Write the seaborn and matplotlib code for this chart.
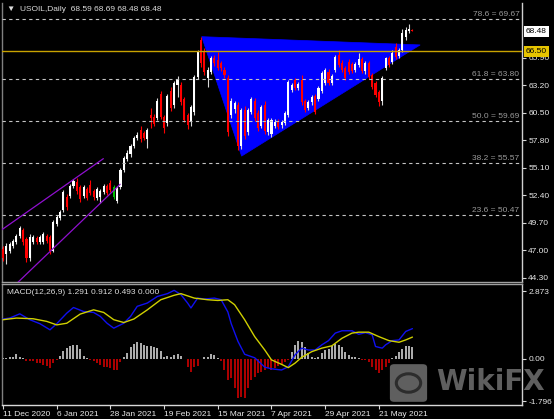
import numpy as np
import pandas as pd
import matplotlib
matplotlib.use("Agg")
import matplotlib.pyplot as plt
import seaborn as sns
from matplotlib.patches import Polygon, FancyBboxPatch, Circle

# ---------------- data ----------------
opens = [47.1, 46.6, 46.9, 47.4, 47.8, 48.4, 49.0, 48.1, 46.3, 47.8,
         48.2, 47.8, 47.8, 48.4, 48.3, 46.9, 49.6, 50.2, 51.0, 52.2,
         52.3, 53.3, 53.7, 53.2, 52.3, 53.0, 53.4, 52.8, 52.1, 52.2,
         52.7, 53.3, 53.6, 53.2, 51.8, 53.2, 54.9, 56.0, 56.4, 57.2,
         58.0, 58.8, 58.5, 57.9, 60.3, 60.1, 60.0, 62.3, 60.1, 59.5,
         62.6, 61.3, 63.2, 63.2, 61.8, 60.3, 59.6, 60.6, 64.0, 67.6,
         66.5, 63.9, 64.5, 65.9, 65.7, 65.4, 64.7, 63.9, 60.3, 60.9,
         61.3, 57.2, 60.8, 58.6, 60.6, 61.6, 60.5, 59.2, 61.3, 58.6,
         58.4, 59.2, 59.6, 59.3, 59.5, 60.3, 62.7, 63.7, 62.9, 63.7,
         61.6, 61.0, 61.5, 62.1, 61.8, 62.6, 63.4, 64.5, 63.4, 64.7,
         66.2, 65.4, 64.9, 65.5, 65.3, 64.7, 65.2, 65.8, 64.6, 65.4,
         64.2, 63.4, 62.5, 61.6, 64.9, 65.9, 65.5, 66.9, 66.1, 66.6,
         67.9, 68.5, 68.59]
highs = [47.4, 47.7, 47.8, 48.1, 48.6, 49.4, 49.2, 48.3, 48.6, 48.5,
         48.4, 48.5, 48.8, 48.6, 48.5, 50.0, 50.5, 51.0, 52.9, 52.5,
         53.5, 54.0, 54.1, 53.4, 53.4, 53.2, 53.9, 53.0, 53.2, 53.0,
         53.5, 53.5, 53.9, 53.4, 53.3, 55.1, 56.3, 56.8, 57.4, 58.2,
         58.6, 59.2, 58.7, 59.0, 61.0, 60.4, 61.9, 62.6, 60.3, 62.3,
         63.0, 63.6, 64.1, 63.5, 62.0, 60.5, 61.3, 64.2, 66.6, 67.95,
         66.8, 65.0, 66.1, 66.2, 66.4, 65.6, 65.0, 64.2, 61.9, 61.6,
         61.5, 61.0, 61.2, 61.0, 62.0, 61.9, 60.8, 61.3, 61.6, 60.0,
         60.0, 59.9, 59.9, 59.8, 60.7, 63.7, 63.4, 63.9, 63.5, 64.2,
         61.8, 61.7, 62.2, 62.3, 63.1, 64.6, 64.9, 64.8, 64.3, 66.2,
         66.6, 65.7, 65.1, 65.8, 65.5, 65.5, 66.3, 66.0, 65.6, 65.6,
         64.4, 63.6, 62.7, 64.1, 66.0, 66.1, 66.6, 67.3, 66.8, 68.7,
         68.9, 69.2, 68.69]
lows = [46.0, 45.7, 46.7, 47.2, 47.6, 48.2, 47.5, 45.9, 46.0, 47.6,
        47.6, 47.6, 47.6, 47.7, 46.6, 46.8, 49.4, 50.0, 50.8, 51.0,
        52.1, 53.1, 52.5, 51.7, 52.1, 51.9, 52.4, 51.9, 51.9, 51.6,
        52.5, 52.4, 52.7, 52.0, 51.6, 53.0, 54.7, 55.8, 56.2, 57.0,
        57.8, 57.6, 57.8, 57.0, 59.0, 59.2, 59.8, 59.9, 58.5, 59.2,
        60.7, 61.0, 62.0, 61.3, 59.6, 58.9, 59.2, 60.3, 63.8, 65.0,
        64.2, 63.0, 64.3, 65.1, 64.7, 64.6, 63.9, 58.2, 60.0, 60.5,
        56.8, 56.9, 57.9, 58.3, 60.4, 59.7, 58.7, 59.0, 58.4, 58.3,
        58.1, 59.0, 58.9, 59.0, 59.3, 60.1, 62.5, 62.7, 62.7, 61.3,
        60.6, 60.8, 61.3, 60.4, 61.6, 62.4, 63.2, 63.2, 63.2, 64.5,
        65.0, 64.5, 63.7, 64.3, 64.4, 64.5, 65.0, 64.4, 64.3, 63.8,
        62.8, 62.0, 61.2, 61.3, 64.7, 65.0, 65.3, 65.8, 65.9, 66.4,
        67.6, 68.3, 68.48]
closes = [46.3, 47.4, 47.6, 47.9, 48.4, 49.2, 47.8, 46.3, 48.3, 48.3,
          47.8, 48.3, 48.6, 47.9, 46.9, 49.8, 50.3, 50.8, 52.7, 51.3,
          53.3, 53.8, 52.8, 52.0, 53.2, 52.1, 52.6, 52.2, 53.0, 52.8,
          53.3, 52.6, 52.9, 52.2, 53.1, 54.9, 56.1, 56.5, 57.2, 58.0,
          58.3, 57.9, 58.0, 58.8, 60.0, 59.4, 61.6, 60.1, 59.0, 62.1,
          61.0, 63.4, 63.7, 61.5, 59.8, 59.3, 61.1, 64.0, 66.4, 65.4,
          64.5, 64.7, 65.9, 65.4, 64.9, 64.9, 64.2, 58.6, 61.6, 61.4,
          57.2, 60.8, 58.2, 60.8, 61.8, 60.0, 59.0, 61.1, 58.7, 59.8,
          59.8, 59.6, 59.1, 59.6, 60.5, 63.5, 63.2, 62.9, 63.3, 61.5,
          60.8, 61.5, 62.0, 60.6, 62.9, 64.4, 64.7, 63.4, 64.1, 65.95,
          65.2, 64.7, 63.9, 64.5, 64.6, 65.3, 65.8, 64.6, 65.4, 64.0,
          63.0, 62.2, 61.5, 63.9, 65.9, 65.2, 66.3, 66.0, 66.6, 68.3,
          68.6, 68.7, 68.48]
green_bars = [33]

fib_levels = [69.67, 63.80, 59.69, 55.57, 50.47]
fib_labels = ["78.6 = 69.67", "61.8 = 63.80", "50.0 = 59.69", "38.2 = 55.57", "23.6 = 50.47"]
hline_price = 66.50
last_price = 68.48
price_ticks = [44.30, 47.00, 49.70, 52.40, 55.10, 57.80, 60.50, 63.20, 65.90]

triangle_bar = [59.2, 71.1, 124.3]
triangle_price = [67.95, 56.24, 67.14]
chan_up_bar = [-0.9, 29.9]
chan_up_price = [48.9, 55.99]
chan_lo_bar = [2.0, 34.9]
chan_lo_price = [43.1, 53.48]

macd_main_bar = [0, 2, 5, 8, 11, 14, 16, 19, 21, 24, 27, 29, 31, 33, 36, 38, 40, 43, 46, 49,
                 51, 53, 55, 56, 58, 60, 63, 65, 67, 68, 70, 72, 75, 78, 80, 83, 85, 87, 89,
                 91, 93, 95, 97, 99, 101, 104, 106, 108, 110, 111, 113, 114, 116, 118, 120, 122]
macd_main = [1.70, 1.74, 1.92, 1.67, 1.50, 1.24, 1.50, 1.95, 2.19, 2.02, 1.98, 1.81, 1.52, 1.31,
             1.52, 1.81, 2.24, 2.38, 2.66, 2.78, 2.92, 2.74, 2.38, 2.17, 2.59, 2.55, 2.59, 2.52,
             2.00, 1.50, 0.75, 0.20, 0.05, -0.35, -0.42, -0.47, -0.33, 0.17, 0.46, 0.38, 0.38,
             0.60, 0.78, 1.10, 1.20, 1.20, 1.05, 1.12, 1.03, 0.53, 0.46, 0.60, 0.78, 0.81, 1.17, 1.29]
macd_sig_bar = [0, 4, 9, 13, 16, 19, 23, 27, 30, 33, 36, 39, 43, 47, 51, 53, 57, 61, 64, 67,
                69, 72, 75, 78, 80, 83, 85, 87, 89, 92, 95, 98, 101, 104, 106, 109, 112, 115,
                118, 120, 122]
macd_sig = [1.67, 1.74, 1.71, 1.60, 1.45, 1.52, 1.91, 2.09, 1.98, 1.67, 1.55, 1.70, 2.09, 2.52,
            2.71, 2.78, 2.59, 2.52, 2.49, 2.52, 2.31, 1.67, 0.95, 0.38, -0.04, -0.23, -0.37,
            -0.18, 0.07, 0.31, 0.46, 0.56, 0.88, 1.10, 1.14, 1.14, 0.95, 0.78, 0.71, 0.81, 0.93]
macd_hist = [0.03, 0.03, 0.07, 0.10, 0.20, 0.10, 0.03, -0.07, -0.10, -0.10,
             -0.16, -0.19, -0.26, -0.28, -0.40, -0.19, -0.05, 0.13, 0.34, 0.46,
             0.56, 0.60, 0.60, 0.41, 0.13, 0.03, -0.03, -0.07, -0.19, -0.26,
             -0.33, -0.33, -0.40, -0.47, -0.47, -0.11, 0.07, 0.24, 0.50, 0.64,
             0.71, 0.70, 0.60, 0.53, 0.53, 0.50, 0.46, 0.34, 0.07, 0.13,
             0.07, 0.17, 0.20, 0.13, -0.02, -0.33, -0.54, -0.35, -0.30, 0.00,
             0.07, 0.07, 0.20, 0.17, 0.05, -0.10, -0.47, -0.90, -0.83, -1.25,
             -1.68, -1.61, -1.68, -1.25, -0.90, -0.76, -0.61, -0.55, -0.45, -0.40,
             -0.45, -0.40, -0.30, -0.20, -0.12, -0.05, 0.31, 0.60, 0.77, 0.74,
             0.50, 0.24, 0.10, 0.05, 0.10, 0.24, 0.36, 0.41, 0.53, 0.64,
             0.60, 0.50, 0.31, 0.17, 0.10, 0.07, 0.03, -0.03, -0.05, -0.11,
             -0.33, -0.47, -0.61, -0.47, -0.33, -0.19, 0.03, 0.13, 0.31, 0.43,
             0.53, 0.56, 0.49]
macd_ticks = [2.873, 0.0, -1.796]
macd_tick_labels = ["2.873", "0.00", "-1.796"]
date_bars = [0, 16, 32, 48, 64, 80, 96, 112]
date_labels = ["11 Dec 2020", "6 Jan 2021", "28 Jan 2021", "19 Feb 2021",
               "15 Mar 2021", "7 Apr 2021", "29 Apr 2021", "21 May 2021"]

# ---------------- style ----------------
sns.set_theme(style="dark", rc={"axes.facecolor": "black", "figure.facecolor": "black"})
plt.rcParams["font.family"] = ["Liberation Sans", "DejaVu Sans"]

W, H = 554, 419
fig = plt.figure(figsize=(W / 100, H / 100), dpi=100, facecolor="black")
ax = fig.add_axes([2 / W, 1 - 282 / H, 520 / W, 279 / H])
ax2 = fig.add_axes([2 / W, 1 - 405 / H, 520 / W, 121 / H])
for a in (ax, ax2):
    a.set_facecolor("black")
    a.grid(False)
    a.set_xlim(-0.3, 154.65)
    for s in a.spines.values():
        s.set_linewidth(1)
    a.spines["left"].set_color("#808080")
    a.spines["right"].set_color("#d0d0d0")
ax.spines["top"].set_visible(False)
ax.spines["bottom"].set_color("#a0a0a0")
ax2.spines["top"].set_color("#a0a0a0")
ax2.spines["bottom"].set_color("#d8d8d8")

ax.set_ylim(43.9, 71.25)
ax2.set_ylim(-1.96, 3.19)

df = pd.DataFrame({"bar": np.arange(len(closes)), "open": opens, "high": highs,
                   "low": lows, "close": closes})

# triangle (background object)
ax.add_patch(Polygon(list(zip(triangle_bar, triangle_price)), closed=True,
                     fc="#0000ff", ec="#0000ff", lw=0.5, zorder=1))

# candles
for r in df.itertuples():
    if r.bar in green_bars:
        col = "#00c000"
    elif r.close >= r.open:
        col = "#ffffff"
    else:
        col = "#ff0000"
    ax.vlines(r.bar, r.low, r.high, color=col if col != "#ffffff" else "#d8d8d8", lw=0.8, zorder=3)
    lo, hi = min(r.open, r.close), max(r.open, r.close)
    ax.bar(r.bar, max(hi - lo, 0.08), bottom=lo, width=0.62, color=col, lw=0, zorder=3)

# fibonacci levels
for lvl, lab in zip(fib_levels, fib_labels):
    ax.axhline(lvl, color="#c4c4c4", lw=0.8, ls=(0, (3, 3)), zorder=4)
    ax.text(0.995, lvl + 0.12, lab, transform=ax.get_yaxis_transform(), ha="right",
            va="bottom", fontsize=6, color="#9a9a9a", zorder=5)

ax.axhline(hline_price, color="#c8a200", lw=1.0, zorder=4)

# channel
sns.lineplot(x=chan_up_bar, y=chan_up_price, ax=ax, color="#9010d0", lw=0.9, zorder=4)
sns.lineplot(x=chan_lo_bar, y=chan_lo_price, ax=ax, color="#9010d0", lw=0.9, zorder=4)

# price axis
ax.yaxis.tick_right()
ax.set_yticks(price_ticks)
ax.set_yticklabels([f"{p:.2f}" for p in price_ticks])
ax.tick_params(axis="y", colors="#d8d8d8", labelcolor="#e8e8e8", labelsize=6, length=3,
               width=0.8, pad=1.5, right=True, left=False)
ax.set_xticks([])
ax.set_xlabel("")
ax.set_ylabel("")

yt = ax.get_yaxis_transform()
ax.text(1.0 + 4 / 520, last_price, "68.48", transform=yt, ha="left", va="center",
        fontsize=6, color="black", zorder=10,
        bbox=dict(boxstyle="square,pad=0.25", fc="white", ec="none"))
ax.text(1.0 + 4 / 520, hline_price, "66.50", transform=yt, ha="left", va="center",
        fontsize=6, color="black", zorder=10,
        bbox=dict(boxstyle="square,pad=0.25", fc="#e6c400", ec="none"))

ax.text(5 / 520, 0.978, "\u25bc  USOIL,Daily  68.59 68.69 68.48 68.48", transform=ax.transAxes,
        ha="left", va="center", fontsize=6, color="#dcdcdc",
        family=["Liberation Sans", "DejaVu Sans"])

# MACD panel
hist = np.array(macd_hist)
bars = np.arange(len(hist))
ax2.vlines(bars[hist >= 0], 0, hist[hist >= 0], color="#e0e0e0", lw=1.1, zorder=2)
ax2.vlines(bars[hist < 0], 0, hist[hist < 0], color="#e00000", lw=1.1, zorder=2)
sns.lineplot(x=macd_main_bar, y=macd_main, ax=ax2, color="#1010f0", lw=1.0, zorder=3)
sns.lineplot(x=macd_sig_bar, y=macd_sig, ax=ax2, color="#d0d000", lw=1.0, zorder=3)
ax2.set_xlabel("")
ax2.set_ylabel("")
ax2.yaxis.tick_right()
ax2.set_yticks(macd_ticks)
ax2.set_yticklabels(macd_tick_labels)
ax2.tick_params(axis="y", colors="#d8d8d8", labelcolor="#e8e8e8", labelsize=6, length=3,
                width=0.8, pad=1.5, right=True, left=False)
ax2.set_xticks(date_bars)
ax2.set_xticklabels(date_labels, ha="left")
ax2.tick_params(axis="x", colors="#d8d8d8", labelcolor="#e8e8e8", labelsize=6, length=3,
                width=0.8, pad=1.5, bottom=True)
ax2.text(5 / 520, 0.93, "MACD(12,26,9) 1.291 0.912 0.493 0.000", transform=ax2.transAxes,
         ha="left", va="center", fontsize=6, color="#dcdcdc")

# watermark
fig.patches.append(FancyBboxPatch((391 / W, 1 - 401 / H), 35 / W, 36 / H,
                                  boxstyle="round,pad=0.002,rounding_size=0.008",
                                  transform=fig.transFigure, fc="#6a6a6a", ec="none",
                                  alpha=0.9, zorder=20))
fig.patches.append(Circle((408.5 / W, 1 - 383 / H), 0.022, transform=fig.transFigure,
                          fc="none", ec="#2c2c2c", lw=2.2, zorder=21))
fig.text(436 / W, 1 - 382 / H, "WikiFX", ha="left", va="center", fontsize=20,
         fontweight="bold", color="#6a6a6a", alpha=0.9, family="DejaVu Sans", zorder=22)

fig.savefig("out.png", dpi=100, facecolor="black")
